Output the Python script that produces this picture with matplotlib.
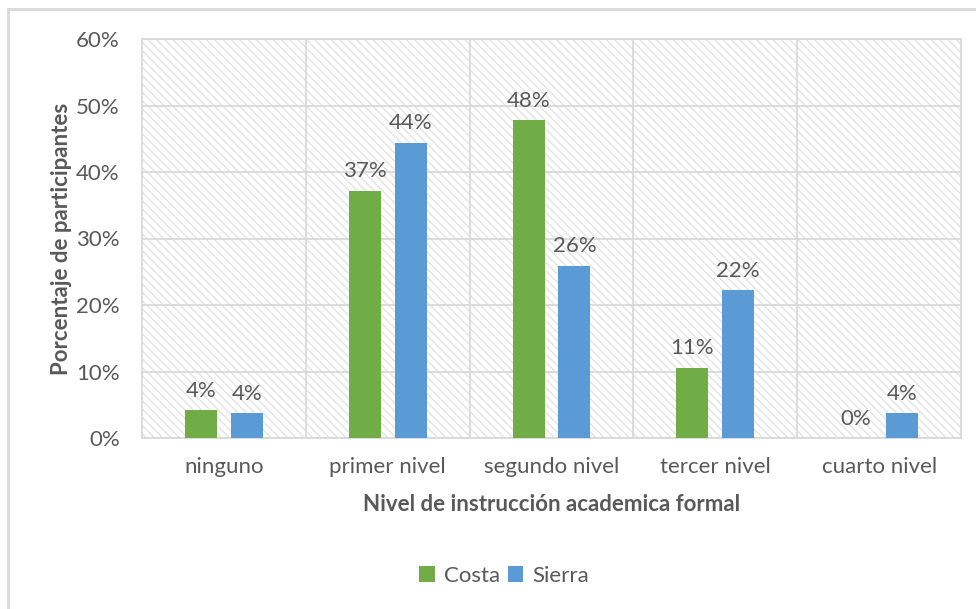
import numpy as np
import matplotlib.pyplot as plt
from matplotlib.lines import Line2D
from matplotlib.patches import Rectangle

categories = ['ninguno', 'primer nivel', 'segundo nivel', 'tercer nivel', 'cuarto nivel']
costa = [4.2, 37.2, 47.8, 10.6, 0.0]
sierra = [3.7, 44.4, 25.9, 22.2, 3.7]

green = '#70AD47'
blue = '#5B9BD5'
txt = '#595959'
grid = '#D9D9D9'
fs = 16

plt.rcParams['font.family'] = ['Lato', 'DejaVu Sans']
plt.rcParams['hatch.linewidth'] = 1.0

fig = plt.figure(figsize=(9.76, 6.09), dpi=100)
ax = fig.add_axes([142/976, 1-438/609, 819/976, 399/609])

# hatched plot background
ax.add_patch(Rectangle((0, 0), 1, 1, transform=ax.transAxes, fill=False,
                       hatch='\\\\\\\\', edgecolor='#E3E3E3', linewidth=0,
                       zorder=0))

x = np.arange(len(categories))
w = 0.195
off = 0.14
ax.bar(x - off, costa, w, color=green, label='Costa', zorder=3)
ax.bar(x + off, sierra, w, color=blue, label='Sierra', zorder=3)

for xi, c, s in zip(x, costa, sierra):
    ax.text(xi - off, c + 1.4, '%d%%' % round(c), ha='center', va='bottom',
            fontsize=fs, color=txt)
    ax.text(xi + off, s + 1.4, '%d%%' % round(s), ha='center', va='bottom',
            fontsize=fs, color=txt)

ax.set_xlim(-0.5, len(categories) - 0.5)
ax.set_ylim(0, 60)
ax.set_yticks(np.arange(0, 61, 10))
ax.set_yticklabels(['%d%%' % v for v in range(0, 61, 10)])
ax.set_xticks(x)
ax.set_xticklabels(categories)
ax.tick_params(axis='both', length=0, labelsize=fs, colors=txt)
ax.tick_params(axis='y', pad=16)
ax.tick_params(axis='x', pad=14)

# horizontal grid + category separators
ax.yaxis.grid(True, color=grid, linewidth=1.3, zorder=1)
for b in np.arange(0.5, len(categories) - 0.5, 1):
    ax.axvline(b, color=grid, linewidth=1.3, zorder=1)
ax.set_axisbelow(True)
for sp in ax.spines.values():
    sp.set_color(grid)
    sp.set_linewidth(1.3)

ax.set_xlabel('Nivel de instrucción academica formal', fontsize=fs,
              fontweight='bold', color=txt, labelpad=12)
ax.set_ylabel('Porcentaje de participantes', fontsize=fs,
              fontweight='bold', color=txt, labelpad=3)

ax.legend(loc='center', bbox_to_anchor=(504/976, 1-576/609),
          bbox_transform=fig.transFigure, ncol=2, frameon=False,
          fontsize=fs, labelcolor=txt, handlelength=0.7, handleheight=0.7,
          handletextpad=0.4, columnspacing=0.35)

# chart frame
fig.add_artist(Line2D([8/976, 1], [1-9/609, 1-9/609], color=grid, lw=2,
                      transform=fig.transFigure))
fig.add_artist(Line2D([8/976, 8/976], [0, 1-9/609], color=grid, lw=2,
                      transform=fig.transFigure))

plt.savefig('out.png', dpi=100)
